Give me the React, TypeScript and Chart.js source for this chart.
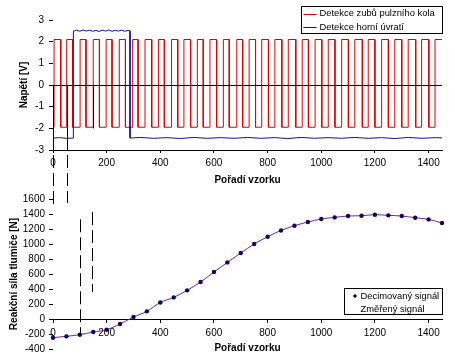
import React, { useEffect, useRef } from "react";
import { Chart, registerables } from "chart.js";

Chart.register(...registerables);

const FONT = '"Liberation Sans", Arial, Helvetica, sans-serif';

// ---------------- data ----------------
const sampleMax = 1450;
const xStep = 200;

// top chart: red square wave (edge positions)
const redRiseEdges = [4, 51, 101, 150, 198, 247, 297, 343, 393, 442, 488, 538, 585, 635, 685, 731, 778, 827, 877, 929, 977, 1026, 1076, 1125, 1175, 1225, 1274, 1324, 1374, 1424];
const redFallEdges = [29, 73, 123, 173, 220, 270, 317, 368, 415, 465, 513, 560, 610, 657, 707, 755, 803, 853, 905, 952, 1002, 1051, 1101, 1153, 1200, 1250, 1300, 1352, 1401];
const redHigh = 2.1;
const redLow = -1.95;

// top chart: blue signal
const blueX = [0, 25, 50, 76, 76, 88, 100, 112, 124, 136, 148, 160, 172, 184, 196, 208, 220, 232, 244, 256, 268, 280, 287, 287, 325, 375, 425, 475, 525, 575, 625, 675, 725, 775, 825, 875, 925, 975, 1025, 1075, 1125, 1175, 1225, 1275, 1325, 1375, 1425, 1450];
const blueY = [-2.45, -2.43, -2.46, -2.45, 2.49, 2.53, 2.48, 2.54, 2.49, 2.53, 2.48, 2.52, 2.47, 2.53, 2.49, 2.54, 2.48, 2.52, 2.49, 2.53, 2.48, 2.52, 2.5, -2.45, -2.42, -2.46, -2.43, -2.47, -2.42, -2.46, -2.43, -2.46, -2.42, -2.46, -2.43, -2.47, -2.42, -2.46, -2.43, -2.46, -2.42, -2.46, -2.43, -2.47, -2.42, -2.46, -2.43, -2.44];

// bottom chart: decimated signal
const decimX = [0, 50, 100, 150, 200, 250, 300, 350, 400, 450, 500, 550, 600, 650, 700, 750, 800, 850, 900, 950, 1000, 1050, 1100, 1150, 1200, 1250, 1300, 1350, 1400, 1450];
const decimY = [-249, -231, -209, -174, -143, -67, 26, 102, 221, 288, 382, 493, 626, 755, 880, 1000, 1097, 1181, 1244, 1293, 1333, 1355, 1373, 1377, 1391, 1382, 1373, 1351, 1328, 1280];

// guide lines
const topMarkerX = [0, 53, 150];
const topMarkerTo = [-3, -3, -2];
const linkX = [0, 53];
const linkToN = [1479, 1545];
const guideX = [99, 147];
const guideFromN = [1330, 1425];
const guideToN = [-209, 360];

const legendTop = ["Detekce zubů pulzního kola", "Detekce horní úvratí"];
const legendBottom = ["Decimovaný signál", "Změřený signál"];

const RED = "#e00000";
const BLUE = "#1010a0";
const NAVY = "#0a0a60";
const PURPLE = "#802080";

function buildSquare(rises: number[], falls: number[], high: number, low: number, xMax: number) {
  const edges: [number, number][] = [
    ...rises.map((x) => [x, 1] as [number, number]),
    ...falls.map((x) => [x, 0] as [number, number]),
  ].sort((a, b) => a[0] - b[0]);
  const pts: { x: number; y: number }[] = [{ x: 0, y: low }];
  let level = low;
  for (const [x, up] of edges) {
    const next = up ? high : low;
    pts.push({ x, y: level });
    pts.push({ x, y: next });
    level = next;
  }
  pts.push({ x: xMax, y: level });
  return pts;
}

const titleFont = { family: FONT, size: 10, weight: "bold" as const };
const tickFont = { family: FONT, size: 10 };
const LEGEND_FONT = `9.4px ${FONT}`;

export default function App() {
  const topRef = useRef<HTMLCanvasElement>(null);
  const botRef = useRef<HTMLCanvasElement>(null);

  useEffect(() => {
    Chart.defaults.font.family = FONT;
    Chart.defaults.font.size = 10;
    Chart.defaults.color = "#000";

    const redData = buildSquare(redRiseEdges, redFallEdges, redHigh, redLow, sampleMax);
    const blueData = blueX.map((x, i) => ({ x, y: blueY[i] }));
    const decimData = decimX.map((x, i) => ({ x, y: decimY[i] }));

    const line = (ctx: CanvasRenderingContext2D, x1: number, y1: number, x2: number, y2: number) => {
      ctx.beginPath();
      ctx.moveTo(x1, y1);
      ctx.lineTo(x2, y2);
      ctx.stroke();
    };

    const topOverlay = {
      id: "topOverlay",
      afterDatasetsDraw(chart: any) {
        const { ctx, chartArea: ca, scales } = chart;
        const xs = scales.x, ys = scales.y;
        ctx.save();
        ctx.strokeStyle = "#000";
        ctx.lineWidth = 1;
        const y0 = Math.round(ys.getPixelForValue(0)) + 0.5;
        line(ctx, ca.left, y0, ca.right, y0);
        topMarkerX.forEach((v, i) => {
          const px = Math.round(xs.getPixelForValue(v)) + 0.5;
          line(ctx, px, y0, px, ys.getPixelForValue(topMarkerTo[i]));
        });
        ctx.restore();
      },
      afterDraw(chart: any) {
        const { ctx, chartArea: ca } = chart;
        ctx.save();
        const w = 141, h = 27;
        const left = Math.round(ca.right) - w + 0.5;
        const top = Math.round(ca.top) - 13.5;
        ctx.fillStyle = "#fff";
        ctx.fillRect(left, top, w, h);
        ctx.strokeStyle = "#000";
        ctx.lineWidth = 1;
        ctx.strokeRect(left, top, w, h);
        ctx.font = LEGEND_FONT;
        ctx.textBaseline = "middle";
        ctx.textAlign = "left";
        const colors = [RED, BLUE];
        legendTop.forEach((t, i) => {
          const yy = top + 7 + i * 13.5;
          ctx.strokeStyle = colors[i];
          line(ctx, left + 2, Math.round(yy) + 0.5, left + 15, Math.round(yy) + 0.5);
          ctx.fillStyle = "#000";
          ctx.fillText(t, left + 18, yy);
        });
        ctx.restore();
      },
    };

    const topChart = new Chart(topRef.current as HTMLCanvasElement, {
      type: "line",
      data: {
        datasets: [
          { label: legendTop[0], data: redData, borderColor: RED, borderWidth: 1, pointRadius: 0, tension: 0, order: 1, clip: false } as any,
          { label: legendTop[1], data: blueData, borderColor: BLUE, borderWidth: 1, pointRadius: 0, tension: 0, order: 0, clip: false } as any,
        ],
      },
      options: {
        animation: false,
        responsive: false,
        devicePixelRatio: 1,
        layout: { padding: { left: 0, top: 20, right: 13, bottom: 173 } },
        plugins: { legend: { display: false }, tooltip: { enabled: false } },
        scales: {
          x: {
            type: "linear",
            position: "bottom",
            min: 0,
            max: sampleMax,
            afterFit: (s: any) => { s.height = 36; },
            ticks: { stepSize: xStep, includeBounds: false, padding: 4, maxRotation: 0, autoSkip: false, font: tickFont, color: "#000", callback: (v: any) => String(v) },
            grid: { drawOnChartArea: false, drawTicks: true, tickLength: 3, color: "#000", tickColor: "#000" },
            border: { display: true, color: "#000", width: 1 },
            title: { display: true, text: "Pořadí vzorku", font: titleFont, color: "#000", padding: { top: 0, bottom: 0 } },
          },
          y: {
            type: "linear",
            position: "left",
            min: -3,
            max: 3,
            afterFit: (s: any) => { s.width = 53; },
            ticks: { stepSize: 1, padding: 5, font: tickFont, color: "#000", callback: (v: any) => String(v) },
            grid: { drawOnChartArea: false, drawTicks: true, tickLength: 4, color: "#000", tickColor: "#000" },
            border: { display: false },
            title: { display: true, text: "Napětí [V]", font: titleFont, color: "#000", padding: { top: 18, bottom: 0 } },
          },
        },
      } as any,
      plugins: [topOverlay],
    });

    const bottomOverlay = {
      id: "bottomOverlay",
      afterDraw(chart: any) {
        const { ctx, chartArea: ca, scales } = chart;
        const xs = scales.x, ys = scales.y;
        const tys = (topChart as any).scales.y;
        ctx.save();
        ctx.strokeStyle = "#000";
        ctx.lineWidth = 1;
        ctx.setLineDash([13, 5]);
        ctx.lineDashOffset = 13;
        linkX.forEach((v, i) => {
          const px = Math.round(xs.getPixelForValue(v)) + 0.5;
          line(ctx, px, tys.getPixelForValue(-3), px, ys.getPixelForValue(linkToN[i]));
        });
        ctx.lineDashOffset = 0;
        guideX.forEach((v, i) => {
          const px = Math.round(xs.getPixelForValue(v)) + 0.5;
          line(ctx, px, ys.getPixelForValue(guideFromN[i]), px, ys.getPixelForValue(guideToN[i]));
        });
        ctx.setLineDash([]);
        // legend
        const w = 98, h = 26;
        const left = Math.round(ca.right) - w + 0.5;
        const top = Math.round(ca.bottom) - 60.5;
        ctx.fillStyle = "#fff";
        ctx.fillRect(left, top, w, h);
        ctx.strokeRect(left, top, w, h);
        ctx.font = LEGEND_FONT;
        ctx.textBaseline = "middle";
        ctx.textAlign = "left";
        const y1 = top + 7.5, y2 = top + 20.5;
        ctx.fillStyle = NAVY;
        ctx.beginPath();
        ctx.arc(left + 10.5, y1, 1.8, 0, Math.PI * 2);
        ctx.fill();
        ctx.fillStyle = "#000";
        ctx.fillText(legendBottom[0], left + 16, y1);
        ctx.fillText(legendBottom[1], left + 16, y2);
        ctx.restore();
      },
    };

    const botChart = new Chart(botRef.current as HTMLCanvasElement, {
      type: "line",
      data: {
        datasets: [
          { label: legendBottom[0], data: decimData, showLine: false, pointRadius: 2.2, pointBackgroundColor: NAVY, pointBorderColor: NAVY, pointBorderWidth: 0, order: 0, clip: false } as any,
          { label: legendBottom[1], data: decimData, borderColor: PURPLE, borderWidth: 1, pointRadius: 0, cubicInterpolationMode: "monotone", order: 1, clip: false } as any,
        ],
      },
      options: {
        animation: false,
        responsive: false,
        devicePixelRatio: 1,
        layout: { padding: { left: 0, top: 199, right: 13, bottom: 10 } },
        plugins: { legend: { display: false }, tooltip: { enabled: false } },
        scales: {
          x: {
            type: "linear",
            position: { y: 0 },
            min: 0,
            max: sampleMax,
            afterFit: (s: any) => { s.height = 35; },
            ticks: { stepSize: xStep, includeBounds: false, padding: 5, maxRotation: 0, autoSkip: false, font: tickFont, color: "#000", callback: (v: any) => String(v) },
            grid: { drawOnChartArea: false, drawTicks: true, tickLength: 3, color: "#000", tickColor: "#000" },
            border: { display: true, color: "#000", width: 1 },
            title: { display: true, text: "Pořadí vzorku", font: titleFont, color: "#000", padding: { top: 0, bottom: 0 } },
          },
          y: {
            type: "linear",
            position: "left",
            min: -400,
            max: 1600,
            afterFit: (s: any) => { s.width = 53; },
            ticks: { stepSize: 200, padding: 4, font: tickFont, color: "#000", callback: (v: any) => String(v) },
            grid: { drawOnChartArea: false, drawTicks: true, tickLength: 4, color: "#000", tickColor: "#000" },
            border: { display: false },
            title: { display: true, text: "Reakční síla tlumiče [N]", font: titleFont, color: "#000", padding: { top: 8, bottom: 0 } },
          },
        },
      } as any,
      plugins: [bottomOverlay],
    });

    return () => {
      botChart.destroy();
      topChart.destroy();
    };
  }, []);

  return (
    <div style={{ position: "fixed", left: 0, top: 0, width: 455, height: 359, background: "#fff" }}>
      <canvas ref={topRef} width={455} height={359} style={{ position: "absolute", left: 0, top: 0 }} />
      <canvas ref={botRef} width={455} height={359} style={{ position: "absolute", left: 0, top: 0 }} />
    </div>
  );
}
